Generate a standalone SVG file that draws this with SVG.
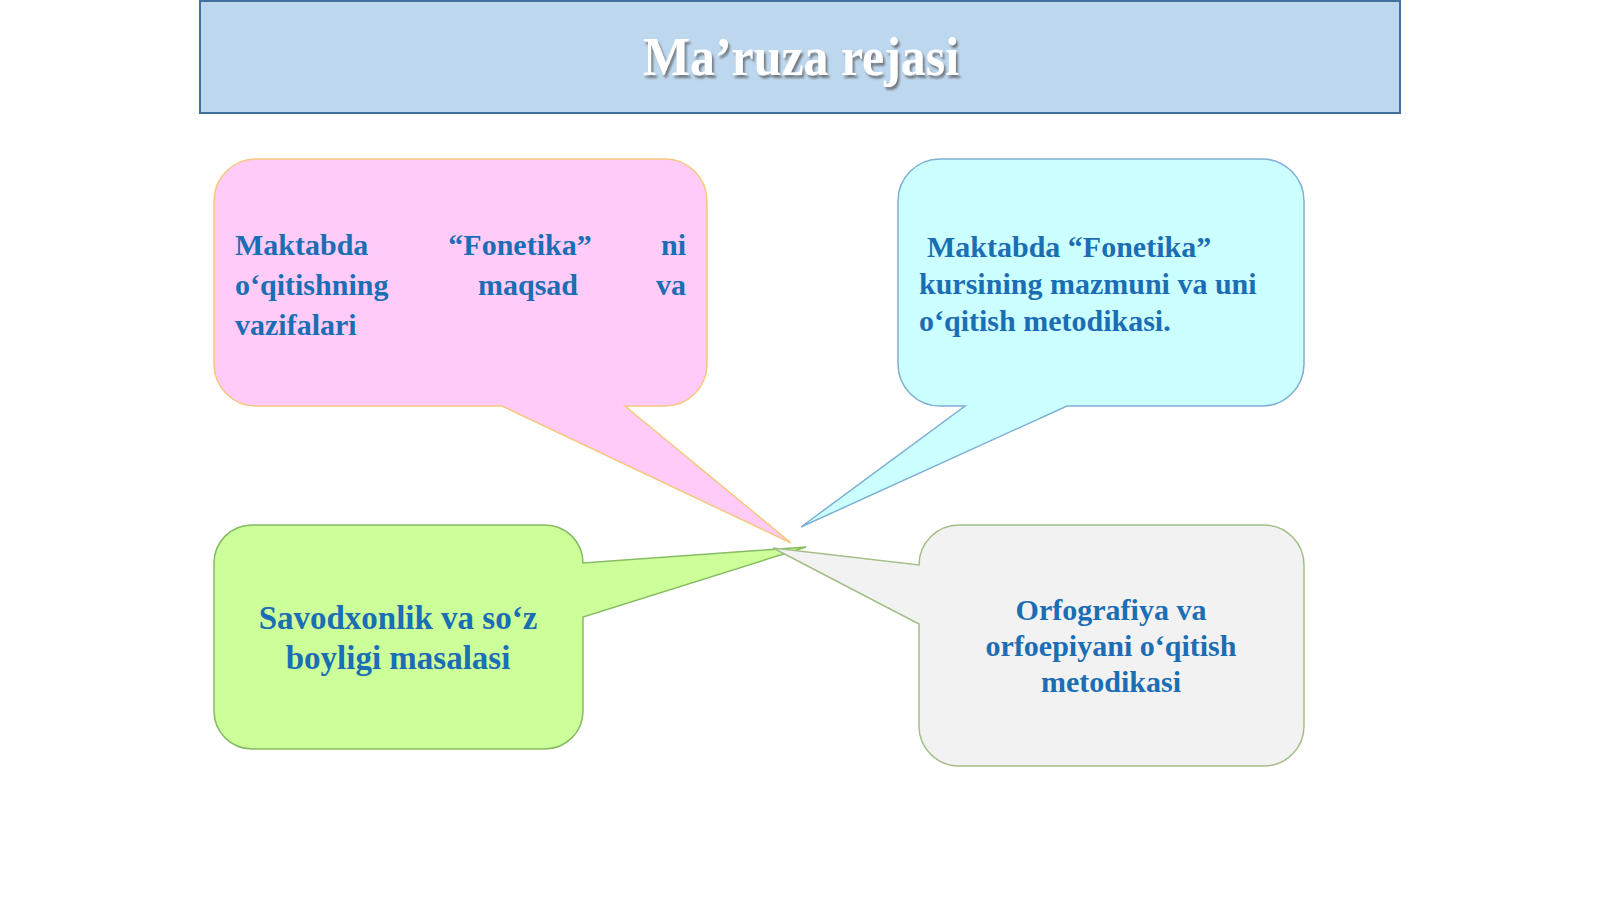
<svg xmlns="http://www.w3.org/2000/svg" width="1600" height="900" viewBox="0 0 1600 900">
<defs>
<style>
.t{font-family:"Liberation Serif","Times New Roman",serif;font-weight:bold;font-size:30px;fill:#1B6DB4}
.big{font-size:33px}
.title{font-family:"Liberation Serif","Times New Roman",serif;font-weight:bold;font-size:54px;fill:#FFFFFF}
.co{stroke-width:1.5;stroke-linejoin:miter}
</style>
<filter id="sh" x="-10%" y="-20%" width="130%" height="160%">
<feDropShadow dx="2" dy="3" stdDeviation="1.2" flood-color="#555" flood-opacity="0.7"/>
</filter>
</defs>
<rect width="1600" height="900" fill="#FFFFFF"/>
<g id="title">
<rect x="200" y="1" width="1200" height="112" fill="#BDD7EE" stroke="#41719C" stroke-width="2"/>
<text class="title" x="801" y="75" text-anchor="middle" textLength="316" lengthAdjust="spacingAndGlyphs" filter="url(#sh)">Ma’ruza rejasi</text>
</g>
<g id="connectors"></g>
<g id="pink">
<path class="co" d="M256,159 H665 A42,42 0 0 1 707,201 V364 A42,42 0 0 1 665,406 H625 L791,543 L502,406 H256 A42,42 0 0 1 214,364 V201 A42,42 0 0 1 256,159 Z" fill="#FFCCFA" stroke="#F8C77E"/>
<text class="t" y="255"><tspan x="235">Maktabda</tspan><tspan x="520" text-anchor="middle">“Fonetika”</tspan><tspan x="686" text-anchor="end">ni</tspan></text>
<text class="t" y="295"><tspan x="235">o‘qitishning</tspan><tspan x="528" text-anchor="middle">maqsad</tspan><tspan x="686" text-anchor="end">va</tspan></text>
<text class="t" x="235" y="335">vazifalari</text>
</g>
<g id="cyan">
<path class="co" d="M940,159 H1262 A42,42 0 0 1 1304,201 V364 A42,42 0 0 1 1262,406 H1067 L801,527 L965,406 H940 A42,42 0 0 1 898,364 V201 A42,42 0 0 1 940,159 Z" fill="#CCFFFF" stroke="#7DAFD6"/>
<text class="t" x="927" y="257">Maktabda “Fonetika”</text>
<text class="t" x="919" y="294">kursining mazmuni va uni</text>
<text class="t" x="919" y="331">o‘qitish metodikasi.</text>
</g>
<g id="green">
<path class="co" d="M252,525 H545 A38,38 0 0 1 583,563 L806,547 L583,617 V711 A38,38 0 0 1 545,749 H252 A38,38 0 0 1 214,711 V563 A38,38 0 0 1 252,525 Z" fill="#CCFF99" stroke="#86BB62"/>
<text class="t big" x="398" y="629" text-anchor="middle">Savodxonlik va so‘z</text>
<text class="t big" x="398" y="669" text-anchor="middle">boyligi masalasi</text>
</g>
<g id="grey">
<path class="co" d="M959,525 H1264 A40,40 0 0 1 1304,565 V726 A40,40 0 0 1 1264,766 H959 A40,40 0 0 1 919,726 V624 L773,548 L919,565 A40,40 0 0 1 959,525 Z" fill="#F2F2F2" stroke="#A3BE86"/>
<text class="t" x="1111" y="620" text-anchor="middle">Orfografiya va</text>
<text class="t" x="1111" y="656" text-anchor="middle">orfoepiyani o‘qitish</text>
<text class="t" x="1111" y="692" text-anchor="middle">metodikasi</text>
</g>
</svg>
